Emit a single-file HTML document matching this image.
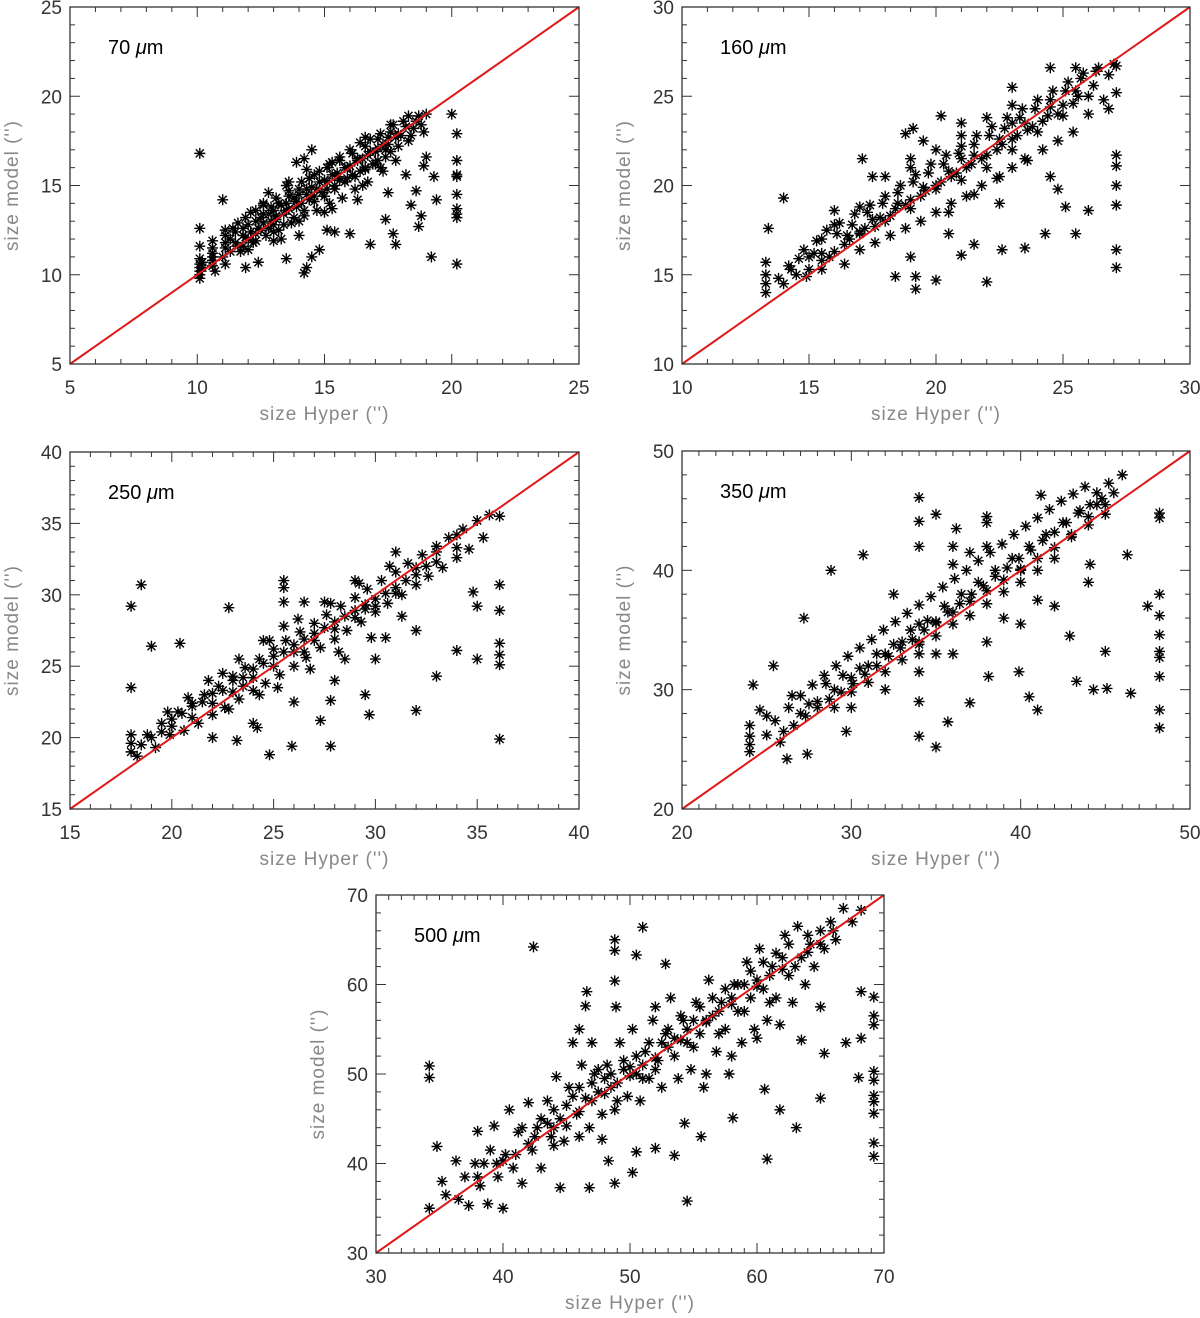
<!DOCTYPE html>
<html><head><meta charset="utf-8"><style>
html,body{margin:0;padding:0;background:#fff;}
svg{display:block;font-family:"Liberation Sans",sans-serif;}
</style></head><body>
<svg id="fig" width="1200" height="1318" viewBox="0 0 1200 1318" xmlns="http://www.w3.org/2000/svg"></svg>
<script>
// ---- data (x = size Hyper, y = size model) ----
const p70 = [[10.1,10.2],[10.1,10.6],[10.1,10.9],[10.1,9.8],[10.2,10.4],[10.6,10.5],[10.6,11.0],[10.6,11.5],[10.6,11.9],[10.7,10.2],[11.0,11.0],[11.1,11.5],[11.1,12.2],[11.1,10.6],[11.5,11.8],[11.5,12.4],[11.6,12.9],[11.7,11.3],[11.9,12.1],[12.0,12.8],[12.1,13.5],[12.2,11.8],[12.4,12.6],[12.5,13.2],[12.6,13.9],[12.7,12.2],[12.9,13.0],[13.0,13.6],[13.1,14.3],[13.2,12.5],[13.4,13.4],[13.5,14.0],[13.6,14.7],[13.7,12.9],[13.9,13.8],[14.0,14.5],[14.1,15.2],[14.2,13.3],[14.4,14.2],[14.5,14.9],[14.6,15.6],[14.7,13.6],[14.9,14.6],[15.0,15.3],[15.1,16.0],[15.2,14.0],[15.4,15.0],[15.5,15.7],[15.6,16.4],[15.7,14.3],[15.9,15.4],[16.0,16.1],[16.1,16.8],[16.2,14.8],[16.4,15.8],[16.5,16.5],[16.6,17.2],[16.7,15.2],[16.9,16.2],[17.0,16.9],[17.1,17.6],[17.3,15.8],[17.4,16.6],[17.5,17.3],[17.6,18.0],[17.8,16.4],[17.9,17.2],[18.0,17.8],[18.1,18.6],[18.3,17.5],[18.5,18.2],[18.7,18.9],[18.9,18.0],[19.0,19.0],[13.3,12.0],[14.0,12.2],[15.0,13.5],[16.3,14.2],[12.8,14.6],[13.6,15.2],
[11.8,12.6],[12.3,13.0],[12.8,13.4],[13.3,13.9],[13.8,14.3],[14.3,14.8],[14.8,15.2],[15.3,15.6],[15.8,16.0],[16.3,16.5],[16.8,16.9],[17.3,17.3],[17.8,17.7],[12.6,12.9],[13.1,13.3],[13.6,13.7],[14.1,14.0],[14.6,14.4],[15.1,14.8],[15.6,15.3],[16.1,15.6],[16.6,16.0],[17.1,16.4],[17.6,16.9],[11.3,12.0],[11.8,11.6],[12.3,12.3],[13.0,12.8],[14.4,15.4],[15.3,16.3],[16.6,17.7],[17.6,18.4],[18.3,18.9],
[11.3,11.3],[11.4,12.6],[11.6,11.6],[11.8,12.2],[12.0,12.0],[12.1,12.4],[12.3,11.9],[12.3,13.6],[12.5,12.5],[12.6,13.4],[12.8,12.6],[12.9,13.8],[13.0,12.4],[13.1,13.1],[13.2,14.0],[13.4,12.8],[13.5,13.6],[13.6,14.4],[13.8,13.2],[13.9,14.1],[14.0,14.8],[14.2,13.6],[14.3,14.5],[14.4,15.4],[14.6,14.1],[14.7,14.8],[14.8,15.8],[15.0,14.4],[15.1,15.2],[15.2,16.2],[15.4,14.8],[15.5,15.5],[15.6,16.6],[15.8,15.2],[15.9,16.0],[16.0,17.0],[16.2,15.5],[16.3,16.4],[16.4,17.4],[16.6,15.9],[16.7,16.7],[16.8,17.6],[17.0,16.2],[17.1,17.1],[17.2,17.9],[17.4,17.0],[17.5,17.7],[17.7,18.4],[17.9,17.9],[18.2,18.3],[18.4,17.8],[18.6,18.6],[18.8,18.4],[12.0,11.4],[13.0,11.9],[14.0,13.0],[15.3,13.7],[16.5,15.0],[17.2,16.0],[13.5,15.0],[14.3,15.9],[12.6,14.0],[11.9,13.2],[10.6,11.2],[10.6,10.8],[11.1,11.8],[11.1,12.5],[10.1,10.0],[10.1,10.4],[10.2,10.7],
[10.1,16.8],[11.0,14.2],[10.1,12.6],[10.1,11.6],[20.0,19.0],[20.2,17.9],[20.2,16.4],[20.2,15.6],[20.2,15.5],[20.2,14.5],[20.2,13.7],[20.2,13.4],[20.2,13.2],[20.2,10.6],[19.2,11.0],[19.4,14.2],[19.3,15.5],[19.0,16.6],[18.9,16.1],[18.8,13.3],[18.7,12.7],[18.4,13.9],[18.6,14.7],[18.2,15.6],[17.8,11.7],[17.7,12.3],[17.5,14.6],[17.4,13.1],[16.8,11.7],[16.0,12.3],[15.4,12.4],[15.1,12.5],[14.8,11.4],[14.5,11.0],[14.3,10.4],[14.2,10.1],[13.5,10.9],[12.4,10.7],[11.9,10.4],[14.5,17.0],[14.2,16.5],[13.9,16.3]];
const p160 = [[13.3,14.0],[13.3,14.5],[13.3,15.0],[13.3,15.7],[13.4,17.6],[13.8,14.8],[14.2,15.5],[14.5,15.0],[14.8,16.4],[15.0,15.3],[15.3,16.9],[15.5,15.8],[15.7,17.5],[16.0,16.3],[16.2,17.9],[16.4,15.6],[16.6,17.0],[16.8,18.4],[17.0,16.4],[17.2,17.6],[17.4,18.9],[17.6,16.8],[17.8,18.2],[18.0,19.4],[18.2,17.2],[18.4,18.7],[18.6,20.0],[18.8,17.6],[19.0,19.2],[19.2,20.6],[19.4,18.0],[19.6,19.7],[19.8,21.2],[20.0,18.5],[20.2,20.2],[20.4,21.7],[20.6,19.0],[20.8,20.7],[21.0,22.2],[21.2,19.4],[21.4,21.2],[21.6,22.8],[21.8,20.0],[22.0,21.7],[22.2,23.3],[22.4,20.4],[22.6,22.3],[22.8,23.8],[23.0,21.0],[23.2,22.8],[23.4,24.3],[23.6,21.4],[23.8,23.3],[24.0,24.8],[24.2,22.0],[24.4,23.9],[24.6,25.3],[24.8,22.5],[25.0,24.5],[25.2,25.8],[25.4,23.0],[25.6,25.0],[25.8,26.3],[26.0,24.0],[26.2,25.6],[26.4,26.6],[26.6,24.8],[26.8,26.2],[27.0,26.8],[19.5,22.5],[21.0,23.5],[23.0,25.5],[24.5,26.6],[17.5,20.5],[16.0,18.6],[20.5,17.3],[22.5,19.0],[24.5,20.5],
[15.5,16.2],[16.5,17.2],[17.5,18.1],[18.5,19.0],[19.5,19.9],[20.5,20.8],[21.5,21.7],[22.5,22.6],[23.5,23.5],[24.5,24.4],[25.5,25.3],[15.0,16.0],[17.0,17.3],[19.0,18.7],[21.0,20.3],[23.0,22.0],[25.0,23.9],[18.0,18.0],[20.0,19.8],[22.0,21.0],[24.0,23.0],[19.0,21.0],[21.0,21.5],[23.0,23.5],
[14.0,14.5],[14.3,15.3],[14.6,15.9],[14.9,14.9],[15.2,16.2],[15.5,17.0],[15.8,16.0],[16.1,17.3],[16.4,16.7],[16.7,17.8],[17.0,17.4],[17.3,18.5],[17.6,17.7],[17.9,19.0],[18.2,18.3],[18.5,19.6],[18.8,18.9],[19.1,20.2],[19.4,19.4],[19.7,20.7],[20.0,20.0],[20.3,21.2],[20.6,20.5],[20.9,21.8],[21.2,21.0],[21.5,22.3],[21.8,21.5],[22.1,22.8],[22.4,22.0],[22.7,23.2],[23.0,22.6],[23.3,23.8],[23.6,23.1],[23.9,24.3],[24.2,23.6],[24.5,24.8],[24.8,24.0],[25.1,25.3],[25.4,24.6],[25.7,26.0],[26.0,25.0],[18.0,20.5],[19.0,21.5],[20.0,22.0],[21.0,22.8],[22.0,23.8],[23.0,24.5],[20.5,18.5],[21.5,19.5],[22.5,20.5],[23.5,21.5],[17.0,18.8],[16.0,17.8],[15.5,15.3],[25.5,26.6],[26.3,26.4],
[14.0,19.3],[22.0,14.6],[19.2,14.2],[19.2,14.9],[20.0,14.7],[24.3,17.3],[25.5,17.3],[26.0,18.6],[23.5,16.5],[24.8,19.8],[25.1,18.8],[19.0,16.0],[18.4,14.9],[21.5,16.7],[27.1,21.7],[27.1,21.1],[27.1,20.0],[27.1,18.9],[27.1,16.4],[27.1,15.4],[27.1,25.2],[27.1,26.7],[26.8,24.3],[19.1,23.2],[18.8,22.9],[17.1,21.5],[20.2,23.9],[22.6,16.4],[21.0,16.1]];
const p250 = [[18.0,19.0],[18.0,19.6],[18.0,20.2],[18.3,18.7],[18.8,20.2],[19.2,19.3],[19.5,21.0],[19.9,20.2],[20.3,21.8],[20.6,20.5],[21.0,22.4],[21.3,21.0],[21.6,23.0],[22.0,21.6],[22.3,23.6],[22.6,22.1],[23.0,24.3],[23.3,22.7],[23.6,24.9],[24.0,23.3],[24.3,25.5],[24.6,23.8],[25.0,26.2],[25.3,24.4],[25.6,26.8],[26.0,25.0],[26.3,27.4],[26.6,25.6],[27.0,28.0],[27.3,26.3],[27.6,28.6],[28.0,26.9],[28.3,29.2],[28.6,27.5],[29.0,29.8],[29.3,28.1],[29.6,30.4],[30.0,28.8],[30.3,31.0],[30.6,29.4],[31.0,31.6],[31.3,30.0],[31.6,32.2],[32.0,30.7],[32.3,32.8],[32.6,31.3],[33.0,33.4],[33.3,31.9],[33.6,34.0],[34.0,32.6],[34.3,34.6],[34.6,33.2],[35.0,35.2],[35.3,34.0],[35.6,35.6],[22.0,20.0],[24.0,21.0],[26.0,22.5],[28.0,24.0],[30.0,25.5],[32.0,27.5],[25.5,31.0],[26.5,29.5],
[20.0,21.3],[21.0,22.2],[22.0,23.1],[23.0,24.0],[24.0,24.8],[25.0,25.7],[26.0,26.5],[27.0,27.3],[28.0,28.1],[29.0,28.9],[30.0,29.7],[31.0,30.5],[32.0,31.4],[33.0,32.3],[34.0,33.3],[23.5,23.6],[26.5,26.0],[29.5,29.0],[32.5,32.0],[22.5,24.5],[24.5,26.8],[25.5,27.8],[27.5,29.5],[29.0,31.0],[31.0,33.0],[28.5,25.5],[30.5,27.0],
[18.5,19.5],[19.0,20.0],[19.5,20.4],[20.0,20.8],[20.5,21.7],[21.0,21.4],[21.5,22.5],[22.0,22.4],[22.5,23.3],[23.0,23.2],[23.5,24.2],[24.0,24.2],[24.5,25.2],[25.0,25.0],[25.5,26.0],[26.0,26.0],[26.5,26.9],[27.0,26.8],[27.5,27.7],[28.0,27.6],[28.5,28.5],[29.0,28.4],[29.5,29.3],[30.0,29.2],[30.5,30.1],[31.0,30.1],[31.5,31.0],[32.0,31.9],[33.0,33.0],[34.0,34.2],[21.8,24.0],[23.3,25.5],[24.8,26.8],[26.2,28.3],[27.8,29.4],[29.2,30.8],[30.7,32.0],[25.2,23.5],[26.8,24.8],[28.2,26.0],[29.8,27.0],[31.3,28.5],[22.8,22.0],[24.3,23.0],[20.8,22.8],[19.8,21.8],[25.5,29.5],[25.5,30.5],
[18.0,23.5],[18.0,29.2],[18.5,30.7],[19.0,26.4],[20.4,26.6],[22.8,29.1],[25.9,19.4],[24.8,18.8],[27.8,19.4],[29.7,21.6],[32.0,21.9],[29.5,23.0],[33.0,24.3],[34.0,26.1],[35.0,25.5],[35.0,29.2],[34.8,30.2],[36.1,19.9],[36.1,25.1],[36.1,25.8],[36.1,26.6],[36.1,28.9],[36.1,30.7],[36.1,35.5],[23.2,19.8],[24.2,20.7],[27.3,21.2],[27.8,22.6]];
const p350 = [[24.0,24.8],[24.0,25.4],[24.0,26.1],[24.0,27.0],[24.2,30.4],[24.6,28.3],[25.0,26.2],[25.5,27.4],[25.8,25.6],[26.3,28.5],[26.6,27.0],[27.0,29.5],[27.3,27.8],[27.7,30.4],[28.0,28.5],[28.4,31.2],[28.7,29.2],[29.1,32.0],[29.4,29.8],[29.8,32.8],[30.1,30.5],[30.5,33.5],[30.8,31.3],[31.2,34.2],[31.5,32.0],[31.9,35.0],[32.2,32.8],[32.6,35.7],[32.9,33.5],[33.3,36.4],[33.6,34.2],[34.0,37.1],[34.3,35.0],[34.7,37.8],[35.0,35.7],[35.4,38.6],[35.7,36.5],[36.1,39.3],[36.4,37.2],[36.8,40.0],[37.1,38.0],[37.5,40.8],[37.8,38.7],[38.2,41.5],[38.5,39.5],[38.9,42.2],[39.2,40.2],[39.6,43.0],[39.9,41.0],[40.3,43.7],[40.6,41.7],[41.0,44.4],[41.3,42.5],[41.7,45.1],[42.0,43.2],[42.4,45.8],[42.7,44.0],[43.1,46.4],[43.4,44.8],[43.8,47.0],[44.1,45.5],[44.5,46.5],[44.8,46.0],[45.2,47.3],[45.5,46.5],[46.0,48.0],[30.0,28.5],[32.0,30.0],[34.0,31.5],[36.0,33.0],[38.0,34.0],[40.0,35.5],[42.0,37.0],[44.0,39.0],[36.0,42.0],[38.0,44.0],[40.0,40.0],
[27.0,28.0],[28.0,29.0],[29.0,30.0],[30.0,31.0],[31.0,32.0],[32.0,33.0],[33.0,34.0],[35.0,35.6],[36.0,36.5],[37.0,37.4],[38.0,38.3],[39.0,39.2],[40.0,40.1],[41.0,41.0],[42.0,41.9],[43.0,42.8],[44.0,43.8],[45.0,44.7],[34.0,34.0],[34.0,33.0],[34.0,35.5],
[25.0,27.8],[26.0,26.5],[26.5,29.5],[27.5,28.8],[28.5,30.5],[29.0,28.5],[29.5,31.2],[30.0,29.8],[30.5,31.8],[31.0,30.6],[31.5,33.0],[32.0,31.5],[32.5,33.8],[33.0,32.5],[33.5,35.0],[34.0,33.8],[34.5,35.8],[35.0,34.5],[35.5,37.0],[36.0,35.5],[36.5,38.0],[37.0,36.2],[37.5,39.0],[38.0,37.2],[38.5,40.0],[39.0,38.2],[39.5,41.0],[40.0,39.0],[40.5,42.0],[41.0,40.0],[41.5,43.0],[42.0,41.0],[42.5,44.0],[43.0,43.0],[43.5,45.0],[44.0,44.5],[44.5,45.5],[45.0,45.5],[37.0,41.5],[38.0,42.0],[36.0,40.5],[39.0,36.0],[41.0,37.5],[35.0,33.0],
[28.8,40.0],[30.7,41.3],[35.0,44.7],[32.5,38.0],[36.2,43.5],[38.0,44.5],[41.2,46.3],[43.3,30.7],[44.3,30.0],[45.1,30.1],[46.5,29.7],[41.0,28.3],[40.5,29.4],[39.9,31.5],[37.0,28.9],[35.7,27.3],[35.0,25.2],[29.7,26.5],[47.5,37.0],[48.2,26.8],[48.2,28.3],[48.2,31.1],[48.2,32.7],[48.2,33.2],[48.2,34.6],[48.2,36.2],[48.2,38.0],[48.2,44.4],[48.2,44.8],[34.0,46.1],[34.0,44.1],[34.0,42.0],[34.0,26.1],[34.0,29.0],[46.3,41.3],[44.1,40.5],[42.9,34.5],[45.0,33.2],[38.1,31.1],[26.2,24.2],[27.4,24.6],[25.4,32.0],[27.2,36.0]];
const p500 = [[34.2,35.0],[35.2,38.0],[35.5,36.5],[36.3,40.3],[36.5,36.0],[37.0,38.5],[37.3,35.3],[37.8,40.0],[38.0,43.6],[38.2,37.5],[38.8,35.5],[39.0,41.5],[39.3,44.2],[39.6,38.5],[40.0,35.0],[40.2,41.0],[40.5,46.0],[40.8,39.5],[41.2,43.5],[41.5,37.8],[42.0,46.8],[42.3,41.5],[42.7,44.0],[43.0,39.5],[43.5,47.0],[43.8,43.0],[44.2,49.7],[44.5,45.0],[44.8,42.5],[45.2,48.5],[45.5,53.5],[45.8,45.5],[46.2,51.0],[46.5,47.3],[46.8,44.0],[47.2,50.0],[47.5,48.0],[47.8,45.5],[48.2,51.0],[48.5,48.5],[48.8,46.0],[49.2,53.5],[49.5,50.5],[49.8,47.5],[50.2,55.0],[50.5,50.0],[50.8,47.0],[51.2,52.5],[51.5,49.5],[51.8,56.0],[52.2,51.5],[52.5,48.5],[52.8,54.5],[53.2,58.5],[53.5,52.0],[53.8,49.5],[54.2,56.0],[54.5,53.5],[54.8,50.5],[55.2,58.0],[55.5,54.5],[55.8,48.5],[56.2,60.5],[56.5,56.5],[56.8,52.5],[57.2,58.0],[57.5,55.0],[57.8,50.0],[58.2,60.0],[58.5,57.0],[58.8,53.5],[59.2,62.5],[59.5,58.5],[59.8,55.0],[60.2,64.0],[60.5,59.5],[60.8,56.0],[61.2,62.0],[61.5,58.5],[61.8,55.5],[62.2,65.5],[62.5,61.0],[62.8,58.0],[63.2,66.5],[63.5,63.0],[63.8,60.0],[64.2,64.5],[64.5,62.0],[65.0,66.0],[65.3,64.0],[65.8,67.0],[66.2,65.0],[66.8,68.5],[67.5,67.0],[68.2,68.3],
[38.0,38.5],[40.0,40.3],[42.0,42.2],[44.0,44.0],[46.0,45.8],[48.0,47.8],[50.0,49.8],[52.0,51.8],[54.0,53.8],[56.0,55.8],[58.0,57.8],[60.0,59.8],[62.0,61.7],[64.0,63.6],[43.0,45.0],[45.0,44.2],[47.0,49.0],[49.0,49.0],[51.0,51.0],[53.0,53.0],[55.0,56.0],[57.0,57.0],[59.0,60.0],[61.0,61.0],
[38.5,40.0],[39.5,40.0],[41.0,41.0],[41.5,44.0],[42.5,43.0],[43.5,44.5],[44.0,46.0],[45.0,46.5],[45.5,47.5],[46.0,48.5],[47.0,47.0],[47.5,50.5],[48.0,49.5],[48.5,50.0],[49.0,47.0],[49.5,51.5],[50.0,50.8],[50.5,52.0],[51.0,49.5],[51.5,53.5],[52.0,50.5],[52.5,53.5],[53.0,55.0],[53.5,54.0],[54.0,56.5],[54.5,55.0],[55.0,53.0],[55.5,57.5],[56.0,56.0],[56.5,58.5],[57.0,54.5],[57.5,59.5],[58.0,58.5],[58.5,60.0],[59.0,57.0],[59.5,61.5],[60.0,60.5],[60.5,62.5],[61.0,58.0],[61.5,63.5],[62.0,63.0],[62.5,64.5],[63.0,62.0],[64.0,65.5],[65.0,64.5],[66.0,66.0],[46.0,55.0],[47.0,53.5],[52.0,57.5],[56.0,50.0],[58.0,52.0],[60.0,54.0],[44.0,42.0],[46.0,43.0],
[34.2,50.9],[34.2,49.6],[34.8,41.9],[42.4,64.2],[48.8,65.0],[48.8,63.8],[48.8,60.4],[51.0,66.4],[50.5,63.3],[52.8,62.3],[46.6,59.2],[46.5,57.6],[48.9,57.5],[54.5,35.8],[48.8,37.8],[44.5,37.3],[46.8,37.3],[50.2,39.0],[53.5,40.9],[60.8,40.5],[61.8,46.0],[63.1,44.0],[58.1,45.1],[65.0,47.3],[65.3,52.3],[67.0,53.5],[68.0,49.6],[68.2,54.0],[68.2,59.2],[69.2,40.8],[69.2,42.3],[69.2,45.6],[69.2,46.9],[69.2,47.6],[69.2,49.3],[69.2,50.3],[69.2,55.5],[69.2,56.5],[69.2,58.6],[65.0,57.5],[63.5,53.8],[60.6,48.3],[55.6,43.0],[54.3,44.5],[52.0,41.7],[50.5,41.3],[47.8,42.7],[48.3,40.3]];

// ---- panels (layout + tick config) ----
const panels = [
 {name:'70',  label:'70',  data:p70,  x0:70,  x1:579,  y0:7,   y1:364,  dom:[5,25],  major:5,  xminor:1, yminor:1},
 {name:'160', label:'160', data:p160, x0:682, x1:1190, y0:7,   y1:364,  dom:[10,30], major:5,  xminor:1, yminor:1},
 {name:'250', label:'250', data:p250, x0:70,  x1:579,  y0:452, y1:809,  dom:[15,40], major:5,  xminor:1, yminor:1},
 {name:'350', label:'350', data:p350, x0:682, x1:1190, y0:451, y1:809,  dom:[20,50], major:10, xminor:1, yminor:2},
 {name:'500', label:'500', data:p500, x0:376, x1:884,  y0:895, y1:1253, dom:[30,70], major:10, xminor:1, yminor:2}
];

const NS='http://www.w3.org/2000/svg';
const svg=document.getElementById('fig');
function mk(tag,attrs,parent){const e=document.createElementNS(NS,tag);for(const k in attrs)e.setAttribute(k,attrs[k]);(parent||svg).appendChild(e);return e;}

panels.forEach(p=>{
  const g=mk('g',{});
  
  
  const sx=v=>p.x0+(v-p.dom[0])/(p.dom[1]-p.dom[0])*(p.x1-p.x0);
  const sy=v=>p.y1-(v-p.dom[0])/(p.dom[1]-p.dom[0])*(p.y1-p.y0);
  const pts=mk('g',{stroke:'#000','stroke-width':'1.4',fill:'none'},g);
  
  
  const r=5.5, d=4;
  p.data.forEach(pt=>{
    const cx=sx(pt[0]), cy=sy(pt[1]);
    const path=mk('path',{d:`M${cx-r},${cy}H${cx+r}M${cx},${cy-r}V${cy+r}M${cx-d},${cy-d}L${cx+d},${cy+d}M${cx-d},${cy+d}L${cx+d},${cy-d}`},pts);
    
    
  });
  const ln=mk('line',{x1:sx(p.dom[0]),y1:sy(p.dom[0]),x2:sx(p.dom[1]),y2:sy(p.dom[1]),stroke:'#e01818','stroke-width':'2'},g);
  
  
  const fr=mk('rect',{x:p.x0,y:p.y0,width:p.x1-p.x0,height:p.y1-p.y0,fill:'none',stroke:'#333','stroke-width':'1.3'},g);
  
  
  const tk=mk('g',{stroke:'#333','stroke-width':'1'},g);
  
  
  for(let v=p.dom[0]; v<=p.dom[1]+1e-9; v+=p.xminor){
    const maj=Math.abs((v-p.dom[0])%p.major)<1e-9, L=maj?10:5, x=sx(v);
    mk('line',{x1:x,y1:p.y1,x2:x,y2:p.y1-L},tk); mk('line',{x1:x,y1:p.y0,x2:x,y2:p.y0+L},tk);
  }
  for(let v=p.dom[0]; v<=p.dom[1]+1e-9; v+=p.yminor){
    const maj=Math.abs((v-p.dom[0])%p.major)<1e-9, L=maj?10:5, y=sy(v);
    mk('line',{x1:p.x0,y1:y,x2:p.x0+L,y2:y},tk); mk('line',{x1:p.x1,y1:y,x2:p.x1-L,y2:y},tk);
  }
  for(let v=p.dom[0]; v<=p.dom[1]+1e-9; v+=p.major){
    const t=mk('text',{x:sx(v),y:p.y1+30,'font-size':'19','text-anchor':'middle',fill:'#333'},g);
    t.textContent=String(v);
    
    
    const u=mk('text',{x:p.x0-8,y:sy(v)+7,'font-size':'19','text-anchor':'end',fill:'#333'},g);
    u.textContent=String(v);
    
    
  }
  const xt=mk('text',{x:(p.x0+p.x1)/2,y:p.y1+56,'font-size':'19','text-anchor':'middle',fill:'#888','letter-spacing':'1'},g);
  xt.textContent="size Hyper ('')";
  
  
  const ycx=p.x0-52, ycy=(p.y0+p.y1)/2;
  const yt=mk('text',{x:ycx,y:ycy,'font-size':'19','text-anchor':'middle',fill:'#888','letter-spacing':'1',transform:`rotate(-90 ${ycx} ${ycy})`},g);
  yt.textContent="size model ('')";
  
  
  const lb=mk('text',{x:p.x0+38,y:p.y0+47,'font-size':'20',fill:'#000'},g);
  lb.textContent=p.label+' ';
  const mu=mk('tspan',{'font-style':'italic'},lb); mu.textContent='μ';
  const mm=mk('tspan',{},lb); mm.textContent='m';
  
  
});
</script>
</body></html>
